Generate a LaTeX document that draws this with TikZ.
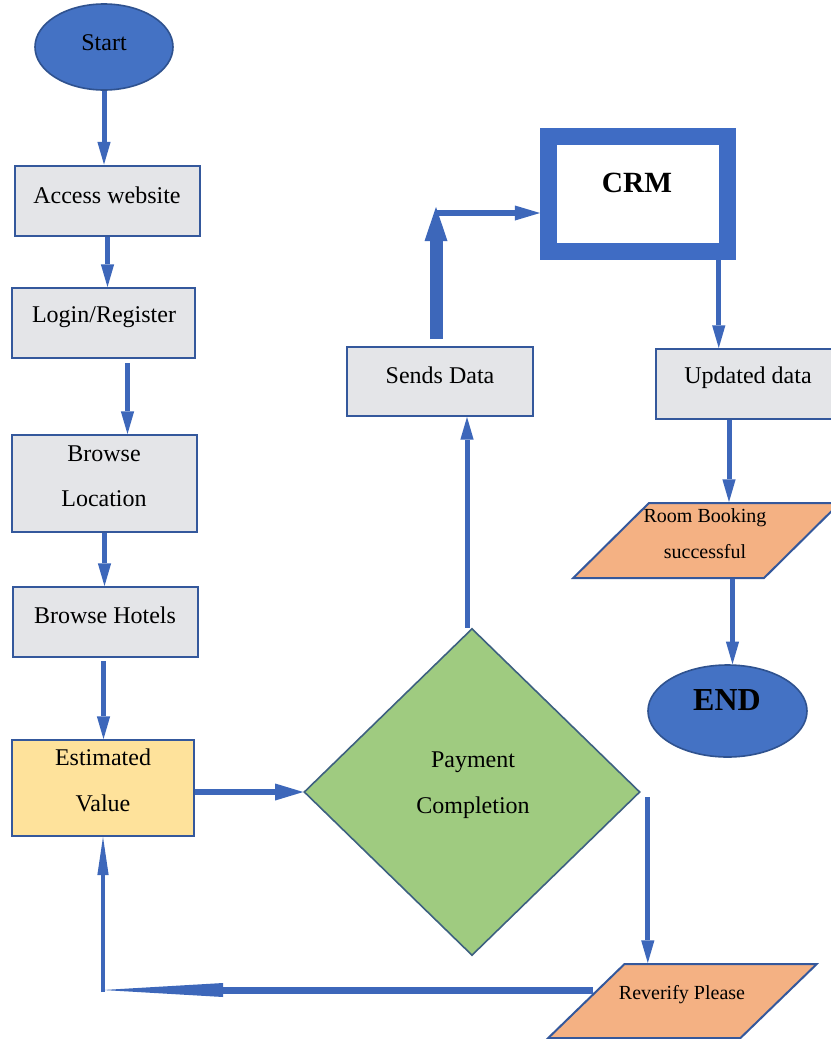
\documentclass[tikz,border=0pt]{standalone}
\usepackage{fontspec}
\setmainfont{Liberation Serif}
\usetikzlibrary{arrows.meta,shapes.geometric,calc}
\definecolor{lineblue}{HTML}{3D67BA}
\definecolor{edgeblue}{HTML}{34589C}
\definecolor{ovalblue}{HTML}{4472C4}
\definecolor{ovaledge}{HTML}{2F528F}
\definecolor{crmblue}{HTML}{3F6CC4}
\definecolor{boxgray}{HTML}{E4E5E8}
\definecolor{estyellow}{HTML}{FEE29B}
\definecolor{paygreen}{HTML}{9FCB80}
\definecolor{diaedge}{HTML}{3D6080}
\definecolor{ioorange}{HTML}{F4B183}
\begin{document}
\begin{tikzpicture}[x=0.75pt,y=-0.75pt,
  procbox/.style={draw=edgeblue,line width=1.5pt,fill=boxgray,minimum width=138.75pt,minimum height=52.5pt,inner sep=0pt},
  tallbox/.style={procbox,minimum height=72.75pt},
  ovalnode/.style={ellipse,draw=ovaledge,line width=1.2pt,fill=ovalblue,inner sep=0pt},
  ionode/.style={trapezium,trapezium left angle=55,trapezium right angle=125,trapezium stretches=true,draw=edgeblue,line width=1.5pt,fill=ioorange,inner sep=2pt},
  lbl/.style={inner sep=0pt,align=center,font=\fontsize{18}{21.6}\selectfont},
  smalllbl/.style={inner sep=0pt,align=center,font=\fontsize{15}{27}\selectfont},
  thinarrow/.style={draw=lineblue,line width=3.75pt,-{Triangle[length=17pt,width=10pt,line width=0pt]}},
  estarrow/.style={draw=lineblue,line width=4.5pt,-{Triangle[length=21pt,width=12.75pt,line width=0pt]}},
  uparrow/.style={draw=lineblue,line width=3pt,-{Triangle[length=28.5pt,width=8.5pt,line width=0pt]}},
  longarrow/.style={draw=lineblue,line width=5.25pt,-{Triangle[length=90pt,width=10.5pt,line width=0pt]}},
  bigarrow/.style={draw=lineblue,line width=9.75pt,-{Triangle[length=25.5pt,width=17.25pt,line width=0pt]}},
  crmarrow/.style={draw=lineblue,line width=4.5pt,-{Triangle[length=18.75pt,width=11.25pt,line width=0pt]}}
]
\useasboundingbox (0,0) rectangle (831,1039);
\fill[white] (0,0) rectangle (831,1039);

% shapes
\node[ovalnode,minimum width=103.5pt,minimum height=64.5pt] (start) at (104,47) {};
\node[procbox] (access) at (107.5,200.5) {};
\node[procbox,minimum width=137.25pt] (login) at (103.5,323) {};
\node[tallbox] (bl) at (104.5,483.5) {};
\node[procbox] (bh) at (105.5,622) {};
\node[tallbox,minimum width=136.5pt,minimum height=72pt,fill=estyellow] (est) at (103,788) {};
\node[diamond,draw=diaedge,line width=1.2pt,fill=paygreen,minimum width=252pt,minimum height=245.25pt,inner sep=0pt] (pay) at (472,792) {};
\node[procbox,minimum width=139.5pt,minimum height=51.75pt] (sends) at (440,381.5) {};
\node[procbox] (upd) at (748,384) {};
\node[draw=crmblue,line width=12.75pt,fill=white,minimum width=133.9pt,minimum height=85.9pt,inner sep=0pt] (crm) at (637.75,194.25) {};
\node[ionode,minimum width=200.25pt,minimum height=56.25pt] (room) at (706.5,540.5) {\phantom{X}};
\node[ovalnode,minimum width=119.25pt,minimum height=69pt] (endnode) at (727.5,711) {};
\node[ionode,minimum width=201.75pt,minimum height=55.5pt] (rev) at (682.5,1001) {\phantom{X}};

% labels
\node[lbl] (starttxt) at (104,43) {Start};
\node[lbl] (accesstxt) at (107,195) {Access website};
\node[lbl] (logintxt) at (104,317) {Login/Register};
\node[lbl,font=\fontsize{18}{34}\selectfont] (bltxt) at (104,476) {Browse\\Location};
\node[lbl] (bhtxt) at (105,615) {Browse Hotels};
\node[lbl,font=\fontsize{18}{34.5}\selectfont] (esttxt) at (103,780) {Estimated\\Value};
\node[lbl,font=\fontsize{18}{34.5}\selectfont] (paytxt) at (473,785) {Payment\\Completion};
\node[lbl] (sendstxt) at (440,375) {Sends Data};
\node[lbl] (updtxt) at (748,378) {Updated data};
\node[inner sep=0pt,font=\fontsize{22}{26}\selectfont\bfseries] (crmtxt) at (637,183) {CRM};
\node[smalllbl] (roomtxt) at (705,534) {Room Booking\\successful};
\node[inner sep=0pt,font=\fontsize{24}{28}\selectfont\bfseries] (endtxt) at (727,700) {END};
\node[smalllbl] (revtxt) at (682,995) {Reverify Please};

% connector helper points
\coordinate (c1) at (436,213);
\coordinate (c2) at (103,990);
\coordinate (a1) at ($(login.south)+(24,4)$);
\coordinate (a2) at ($(bh.south)+(-2,3)$);
\coordinate (a3) at ($(pay.north)+(-5,0)$);
\coordinate (a4) at ($(sends.north -| c1)+(0,-7)$);
\coordinate (a5) at ($(crm.south)+(81,0)$);
\coordinate (a6) at ($(upd.south)+(-19,0)$);
\coordinate (a7) at ($(room.south)+(26,0)$);
\coordinate (a8) at ($(pay.east)+(7,5)$);
\coordinate (a9) at ($(c2 -| rev.west)+(8,0)$);

% connectors
\draw[thinarrow] (start.south) -- (start.south |- access.north);
\draw[thinarrow] (access.south) -- (access.south |- login.north);
\draw[thinarrow] (a1) -- (a1 |- bl.north);
\draw[thinarrow] (bl.south) -- (bl.south |- bh.north);
\draw[thinarrow] (a2) -- (a2 |- est.north);
\draw[estarrow] (est.east |- pay.west) -- (pay.west);
\draw[thinarrow] (a3) -- (a3 |- sends.south);
\draw[bigarrow] (a4) -- ($(c1)+(0,-6)$);
\draw[crmarrow] (c1) -- (c1 -| crm.west);
\draw[thinarrow] (a5) -- (a5 |- upd.north);
\draw[thinarrow] (a6) -- (a6 |- room.north);
\draw[thinarrow] (a7) -- (a7 |- endnode.north);
\draw[thinarrow] (a8) -- (a8 |- rev.north);
\draw[longarrow] (a9) -- (c2);
\draw[uparrow] ($(c2)+(0,2)$) -- (c2 |- est.south);
\end{tikzpicture}
\end{document}
